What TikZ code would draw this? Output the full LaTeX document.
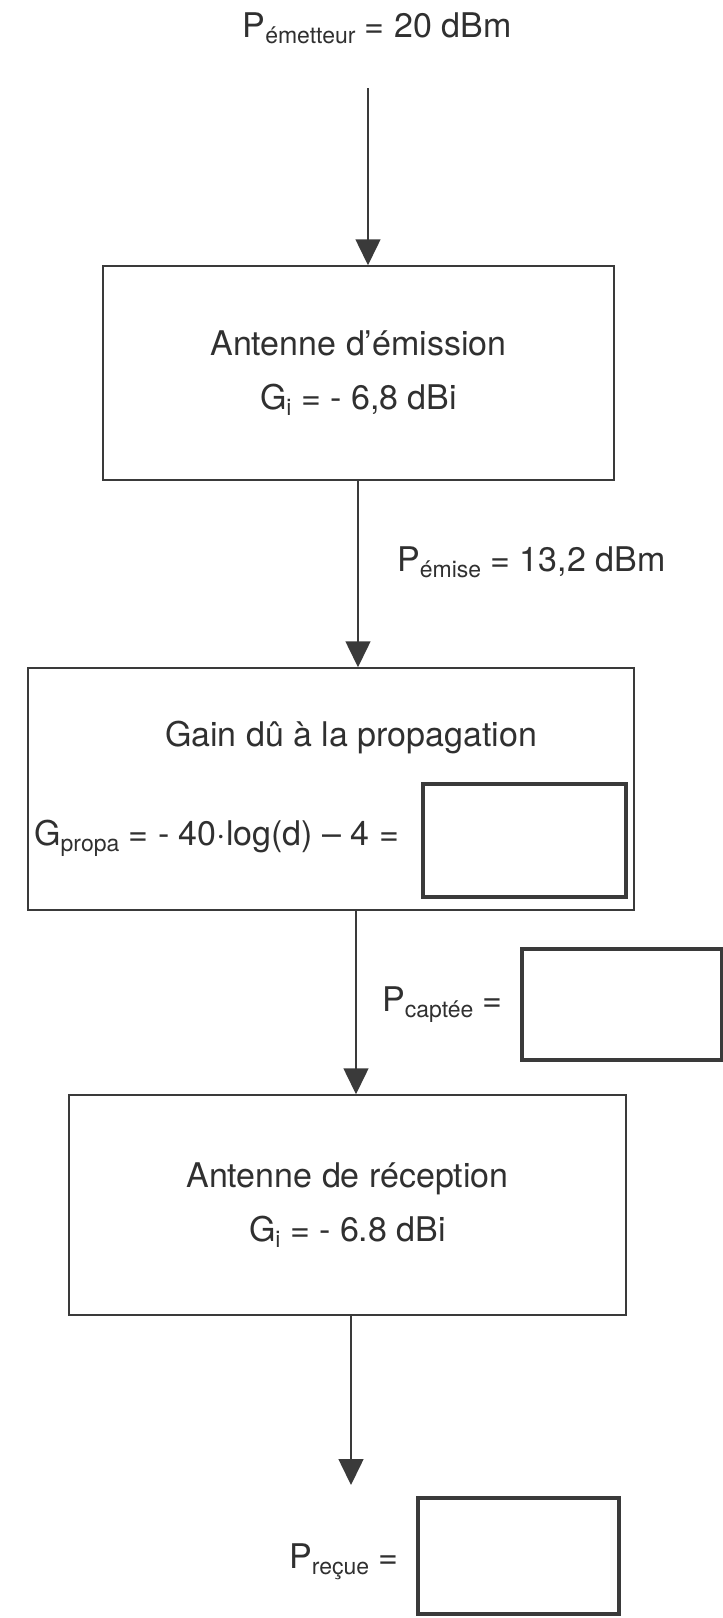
\documentclass[tikz,border=0pt]{standalone}
\usepackage{fontspec}
\setmainfont{TeX Gyre Heros}
\usetikzlibrary{arrows.meta}
\definecolor{ink}{HTML}{303030}
\definecolor{frame}{HTML}{3A3A3A}
\newcommand\lowsub[1]{\raisebox{-0.2em}{\fontsize{23}{23}\selectfont #1}}
\begin{document}
\begin{tikzpicture}[x=1pt,y=-1pt,
  txt/.style={text=ink, font=\fontsize{34}{54}\selectfont, inner sep=0pt},
  blockbox/.style={draw=frame, line width=1.5pt, inner sep=0pt, align=center, text=ink, font=\fontsize{34}{54}\selectfont},
  ansbox/.style={draw=frame, line width=4pt, inner sep=0pt},
  arr/.style={draw=frame, line width=1.5pt, -{Triangle[length=26pt,width=25pt]}}
]
\useasboundingbox (0,0) rectangle (723,1618);

% title
\node[txt, anchor=base] (title) at (377,37) {P\lowsub{émetteur} = 20 dBm};

% box 1
\node[blockbox, minimum width=511pt, minimum height=214pt] (b1) at (358.5,373)
  {Antenne d’émission\\G\lowsub{i} = - 6,8 dBi};

% box 2
\node[blockbox, minimum width=606pt, minimum height=242pt] (b2) at (331,789) {};
\node[txt, anchor=base] (b2t) at (351,746) {Gain dû à la propagation};
\node[txt, anchor=base west] (form) at (34,845) {G\lowsub{propa} = - 40·log(d) – 4 =};
\node[ansbox, minimum width=203pt, minimum height=113pt] (ans1) at (524.5,840.5) {};

% box 3
\node[blockbox, minimum width=557pt, minimum height=220pt] (b3) at (347.5,1205)
  {Antenne de réception\\G\lowsub{i} = - 6.8 dBi};

% labels on connectors
\node[txt, anchor=base west] (pemise) at (397,571) {P\lowsub{émise} = 13,2 dBm};
\node[txt, anchor=base west] (pcapt) at (382,1011) {P\lowsub{captée} =};
\node[ansbox, minimum width=200pt, minimum height=111pt] (ans2) at (622,1004.5) {};
\node[txt, anchor=base west] (precue) at (289,1568) {P\lowsub{reçue} =};
\node[ansbox, minimum width=201pt, minimum height=116pt] (ans3) at (518.5,1556) {};

% connector start points
\coordinate (s1) at (368,88);
\coordinate (s2) at (358,480);
\coordinate (s3) at (356,910);
\coordinate (s4) at (351,1315);
\coordinate (e4) at (351,1485);

\draw[arr] (s1) -- (s1 |- b1.north);
\draw[arr] (s2) -- (s2 |- b2.north);
\draw[arr] (s3) -- (s3 |- b3.north);
\draw[arr] (s4) -- (e4);
\end{tikzpicture}
\end{document}
